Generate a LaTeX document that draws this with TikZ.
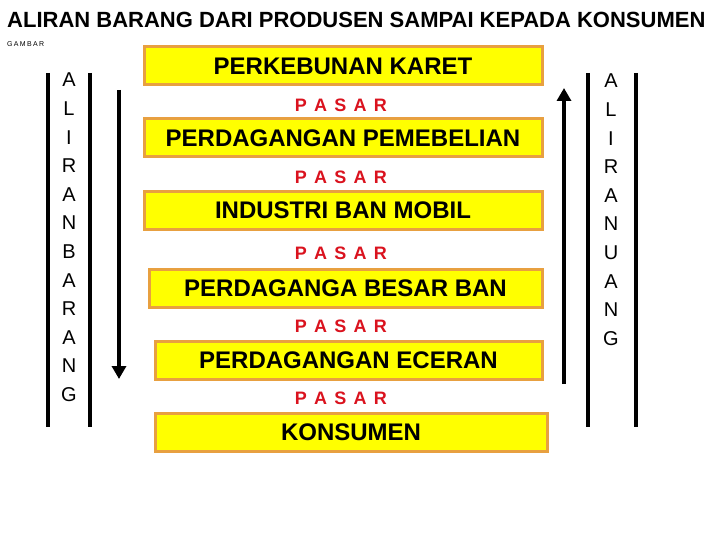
\documentclass[tikz,border=0pt]{standalone}
\usepackage{fontspec}
\setmainfont{Liberation Sans}
\newfontfamily\pasarfont[WordSpace=1.45]{Liberation Sans}
\usetikzlibrary{arrows.meta}

\definecolor{boxfill}{RGB}{255,255,0}
\definecolor{boxline}{RGB}{232,160,64}
\definecolor{pasarred}{RGB}{218,18,30}

\tikzset{
  stage/.style={draw=boxline, line width=3pt, fill=boxfill, inner sep=0pt,
    minimum height=38pt, font=\fontsize{24}{28}\selectfont\bfseries},
  market/.style={text=pasarred, inner sep=0pt,
    font=\pasarfont\fontsize{18}{20}\selectfont\bfseries},
  letter/.style={inner sep=0pt, font=\fontsize{20}{22}\selectfont},
  bar/.style={line width=4pt},
  flow/.style={line width=4pt, -{Triangle[width=14pt,length=13pt]}}
}

\begin{document}
\begin{tikzpicture}[x=1pt,y=-1pt]
   \useasboundingbox (0,0) rectangle (720,540);

   \node[anchor=west, inner sep=0pt, font=\fontsize{22}{24}\selectfont\bfseries] (title) at (7,20)
      {ALIRAN BARANG DARI PRODUSEN SAMPAI KEPADA KONSUMEN};
   \node[anchor=west, inner sep=0pt, font=\fontsize{7}{8}\selectfont\addfontfeature{LetterSpace=19}] (gambar) at (7,44) {GAMBAR};

   % rantai tataniaga
   \node[stage, minimum width=398pt] (kebun)   at (343,66)    {PERKEBUNAN KARET};
   \node[market] (pasar1) at (341,105) {P A S A R};
   \node[stage, minimum width=398pt] (beli)    at (343,138)   {PERDAGANGAN PEMEBELIAN};
   \node[market] (pasar2) at (341,177) {P A S A R};
   \node[stage, minimum width=398pt] (industri) at (343,210.5) {INDUSTRI BAN MOBIL};
   \node[market] (pasar3) at (341,253) {P A S A R};
   \node[stage, minimum width=393pt] (besar)   at (345.5,288) {PERDAGANGA BESAR BAN};
   \node[market] (pasar4) at (341,326) {P A S A R};
   \node[stage, minimum width=387pt] (eceran)  at (348.5,360.5) {PERDAGANGAN ECERAN};
   \node[market] (pasar5) at (341,398) {P A S A R};
   \node[stage, minimum width=392pt] (konsumen) at (351,432)  {KONSUMEN};

   % aliran barang
   \draw[bar] (48,73) -- (48,427);
   \draw[bar] (90,73) -- (90,427);
   \foreach \l [count=\i] in {A,L,I,R,A,N,B,A,R,A,N,G}
      \node[letter] (barang\i) at (69,{80+28.6*(\i-1)}) {\l};
   \coordinate (turunA) at (119,90);
   \coordinate (turunB) at (119,379);
   \draw[flow] (turunA) -- (turunB);

   % aliran uang
   \draw[bar] (588,73) -- (588,427);
   \draw[bar] (636,73) -- (636,427);
   \foreach \l [count=\i] in {A,L,I,R,A,N,U,A,N,G}
      \node[letter] (uang\i) at (611,{81+28.6*(\i-1)}) {\l};
   \coordinate (naikA) at (564,384);
   \coordinate (naikB) at (564,88);
   \draw[flow] (naikA) -- (naikB);
\end{tikzpicture}
\end{document}
